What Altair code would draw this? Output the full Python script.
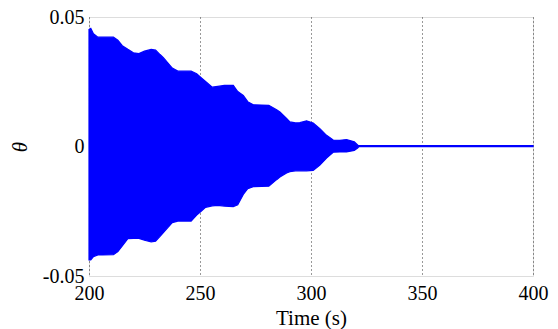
import altair as alt
import pandas as pd

# Envelope of the oscillation
t = [200, 200.8, 202, 204, 206, 211, 213, 215, 217.5, 220, 222.5, 225, 228, 230,
     232, 233.5, 235.5, 237.5, 240, 246, 248.5, 250.5, 252.5, 255.5, 258, 261, 265,
     267, 269.5, 271.5, 274, 281, 284.5, 286, 289, 290.5, 293, 295, 298, 301, 304,
     307, 310, 313, 316, 319.5, 321, 321.5, 400]
upper = [0.0452, 0.0456, 0.0435, 0.0422, 0.0422, 0.0422, 0.0410, 0.0389, 0.0375, 0.0362,
         0.0359, 0.0368, 0.0375, 0.0372, 0.0355, 0.0343, 0.0323, 0.0303, 0.0291, 0.0291,
         0.0281, 0.0266, 0.0251, 0.0229, 0.0232, 0.0236, 0.0236, 0.0212, 0.0197, 0.0173,
         0.0161, 0.0159, 0.0142, 0.0133, 0.0108, 0.0095, 0.0091, 0.0092, 0.0099, 0.0091,
         0.0069, 0.0043, 0.0025, 0.0024, 0.0027, 0.0018, 0.0006, 0.0003, 0.0003]
lower = [-0.0438, -0.0438, -0.0425, -0.0419, -0.0419, -0.0418, -0.0406, -0.0384, -0.0356,
         -0.0355, -0.0355, -0.0362, -0.0368, -0.0366, -0.0347, -0.0332, -0.0313, -0.0294,
         -0.0288, -0.0288, -0.0265, -0.0250, -0.0235, -0.0229, -0.0227, -0.0230, -0.0232,
         -0.0225, -0.0185, -0.0163, -0.0155, -0.0153, -0.0128, -0.0118, -0.0102, -0.0097,
         -0.0094, -0.0094, -0.0094, -0.0092, -0.0072, -0.0045, -0.0022, -0.0021, -0.0021,
         -0.0015, -0.0006, -0.0001, -0.0001]

x_ticks = [200, 250, 300, 350, 400]
y_ticks = [-0.05, 0, 0.05]
y_labels = ["-0.05", "0", "0.05"]

df = pd.DataFrame({"t": t, "upper": upper, "lower": lower})

label_expr = " : ".join(
    [f"datum.value == {v} ? '{l}'" for v, l in zip(y_ticks, y_labels)]
) + " : ''"

FONT = "Liberation Serif"

common = dict(labelFont=FONT, titleFont=FONT, labelFontSize=20, titleFontSize=21,
              labelColor="#000", titleColor="#000", titleFontWeight="normal",
              labelFontWeight="normal", labelFlush=False)

chart = alt.Chart(df).mark_area(
    color="#0000ff", stroke="#0000ff", strokeWidth=1.2, opacity=1
).encode(
    x=alt.X("t:Q", scale=alt.Scale(domain=[200, 400], nice=False),
            axis=alt.Axis(values=x_ticks, format="d", title="Time (s)",
                          grid=True, gridDash=[1, 3], gridColor="#333",
                          ticks=False, domain=False, labelPadding=7,
                          titlePadding=4, **common)),
    y=alt.Y("upper:Q", scale=alt.Scale(domain=[-0.05, 0.05], nice=False),
            axis=alt.Axis(values=y_ticks, labelExpr=label_expr, title="θ",
                          grid=False, ticks=False, domain=False, labelPadding=5,
                          titlePadding=12, titleFontStyle="italic", **common)),
    y2="lower:Q",
).properties(
    width=444, height=259,
    autosize=alt.AutoSizeParams(type="none"),
    padding={"left": 81, "top": 9, "right": 17, "bottom": 53},
).configure_view(
    stroke="#404040", strokeWidth=1
).configure(
    font=FONT
)

chart.save("out.html", embed_options={"renderer": "svg", "actions": False})
